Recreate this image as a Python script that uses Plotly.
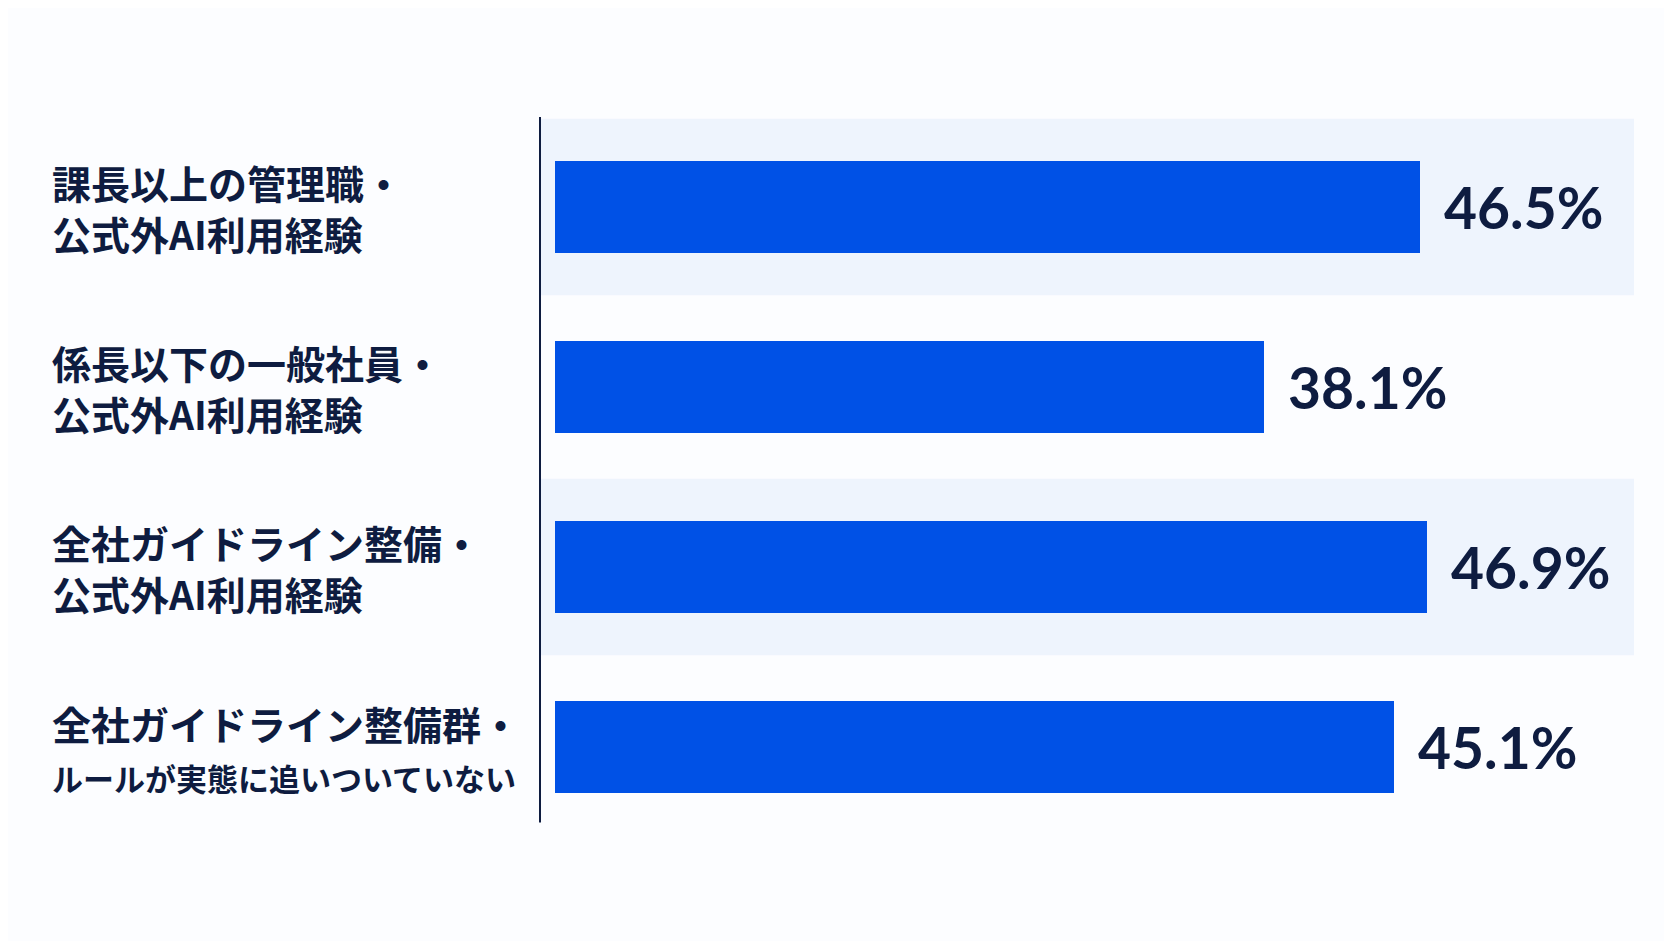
import plotly.graph_objects as go

categories = [
    "課長以上の管理職・<br>公式外AI利用経験",
    "係長以下の一般社員・<br>公式外AI利用経験",
    "全社ガイドライン整備・<br>公式外AI利用経験",
    "全社ガイドライン整備群・<br><span style='font-size:31px'>ルールが実態に追いついていない</span>",
]
values = [46.5, 38.1, 46.9, 45.1]
value_labels = ["46.5%", "38.1%", "46.9%", "45.1%"]
shaded_rows = [0, 2]

navy = "#0e1c40"
blue = "#0051e6"
band = "#eef4fd"

ypos = list(range(len(categories)))

fig = go.Figure()
fig.add_trace(
    go.Bar(
        x=values,
        y=ypos,
        orientation="h",
        width=0.51,
        marker=dict(color=blue, line=dict(width=0)),
        hoverinfo="skip",
    )
)

# light background bands behind alternating rows
for r in shaded_rows:
    fig.add_shape(
        type="rect", xref="paper", yref="y",
        x0=0, x1=1, y0=r - 0.49, y1=r + 0.49,
        fillcolor=band, line=dict(width=0), layer="below",
    )

# vertical axis line
fig.add_shape(
    type="line", xref="paper", yref="paper",
    x0=0, x1=0, y0=0.02, y1=1,
    line=dict(color=navy, width=2),
)

# value labels
for i, (v, t) in enumerate(zip(values, value_labels)):
    fig.add_annotation(
        x=v, y=i, text=t, showarrow=False,
        xanchor="left", yanchor="middle", xshift=22,
        font=dict(family="Lato", size=57, color=navy, weight="bold"),
    )

# category labels, left aligned
for i, c in enumerate(categories):
    fig.add_annotation(
        x=-0.448, xref="paper", y=i, yref="y", text=c,
        showarrow=False, xanchor="left", yanchor="middle", align="left",
        font=dict(family="Noto Sans CJK JP", size=39, color=navy, weight="bold"),
    )

fig.update_xaxes(range=[-0.8, 58], visible=False, fixedrange=True)
fig.update_yaxes(range=[3.5, -0.5], visible=False, fixedrange=True)
fig.update_layout(
    width=1672,
    height=941,
    margin=dict(l=532, r=46, t=109, b=112),
    paper_bgcolor="#fcfdff",
    plot_bgcolor="#fcfdff",
    showlegend=False,
    bargap=0,
)

fig.write_html("out.html")
